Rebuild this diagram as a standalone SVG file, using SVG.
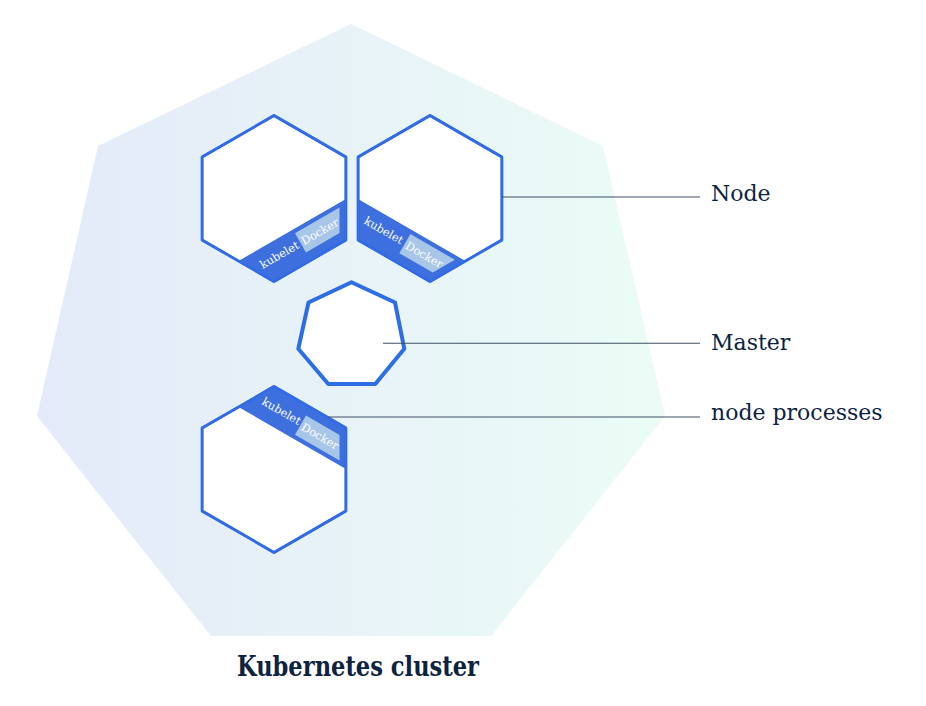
<svg xmlns="http://www.w3.org/2000/svg" width="926" height="706" viewBox="0 0 926 706">
  <defs>
    <linearGradient id="bg" x1="0" y1="0" x2="1" y2="0">
      <stop offset="0" stop-color="#e4eaf9"/>
      <stop offset="1" stop-color="#ebfcf6"/>
    </linearGradient>
    <style>
      .hex { fill: #ffffff; stroke: #326ce5; stroke-width: 2.6; stroke-linejoin: round; }
      .hexo { fill: none; stroke: #326ce5; stroke-width: 2.6; stroke-linejoin: round; }
      .band { fill: #3d70de; }
      .box { fill: #a7c6e8; }
      .mini { font-family: "DejaVu Serif", "Liberation Serif", serif; font-size: 11.3px; fill: #ffffff; }
      .lbl { font-family: "DejaVu Serif", "Liberation Serif", serif; font-size: 22px; fill: #0d2340; }
      .title { font-family: "DejaVu Serif", "Liberation Serif", serif; font-size: 27px; font-weight: bold; fill: #0d2340; }
      .conn { stroke: #3e5065; stroke-width: 1.1; fill: none; }
    </style>
  </defs>
  <rect width="926" height="706" fill="#ffffff"/>

  <g id="cluster">
    <polygon points="351,24 603,146 665,416 491,636 211,636 37,416 98,146" fill="url(#bg)"/>
  </g>

  <g id="node1">
    <polygon class="hex" points="274,115.5 345.9,157 345.9,240 274,281.5 202.1,240 202.1,157"/>
    <polygon class="band" points="345.9,199 345.9,240 274,281.5 238.5,261"/>
    <polygon class="box" points="295,233.3 339.5,207.6 339.5,233.1 306,252.4"/>
    <polygon class="hexo" points="274,115.5 345.9,157 345.9,240 274,281.5 202.1,240 202.1,157"/>
    <text class="mini" text-anchor="middle" transform="translate(281.3,258.3) rotate(-30)">kubelet</text>
    <text class="mini" text-anchor="middle" transform="translate(320,231.6) rotate(-30)" y="3.8">Docker</text>
  </g>

  <g id="node2">
    <polygon class="hex" points="430,115.5 501.9,157 501.9,240 430,281.5 358.1,240 358.1,157"/>
    <polygon class="band" points="358.1,199 358.1,240 430,281.5 465.5,261"/>
    <polygon class="box" points="410.4,234.1 454.9,259.8 432.8,272.5 399.3,253.2"/>
    <polygon class="hexo" points="430,115.5 501.9,157 501.9,240 430,281.5 358.1,240 358.1,157"/>
    <text class="mini" text-anchor="middle" transform="translate(381.9,233.8) rotate(30)">kubelet</text>
    <text class="mini" text-anchor="middle" transform="translate(424.3,254.9) rotate(30)" y="3.8">Docker</text>
  </g>

  <g id="master">
    <polygon points="351.5,282.3 395,302.5 404.3,348.8 375.3,384 328.3,384 298.3,348.8 308.5,302.5" fill="#ffffff" stroke="#2d6ee4" stroke-width="4" stroke-linejoin="round"/>
  </g>

  <g id="node3">
    <polygon class="hex" points="274,386.5 345.9,428 345.9,511 274,552.5 202.1,511 202.1,428"/>
    <polygon class="band" points="345.9,469 345.9,428 274,386.5 238.5,407"/>
    <polygon class="box" points="295,434.7 306,415.6 339.5,434.9 339.5,460.4"/>
    <polygon class="hexo" points="274,386.5 345.9,428 345.9,511 274,552.5 202.1,511 202.1,428"/>
    <text class="mini" text-anchor="middle" transform="translate(279.5,414.5) rotate(30)">kubelet</text>
    <text class="mini" text-anchor="middle" transform="translate(320,436.4) rotate(30)" y="3.8">Docker</text>
  </g>

  <g id="connectors">
    <line class="conn" x1="502" y1="197" x2="700" y2="197"/>
    <line class="conn" x1="383" y1="343.3" x2="700" y2="343.3" stroke="#8d98a3"/>
    <line class="conn" x1="328" y1="417" x2="700" y2="417"/>
  </g>

  <g id="labels">
    <text class="lbl" x="711" y="200.5">Node</text>
    <text class="lbl" x="711" y="350">Master</text>
    <text class="lbl" x="711" y="420">node processes</text>
    <text class="title" x="237" y="676" textLength="242" lengthAdjust="spacingAndGlyphs">Kubernetes cluster</text>
  </g>
</svg>
